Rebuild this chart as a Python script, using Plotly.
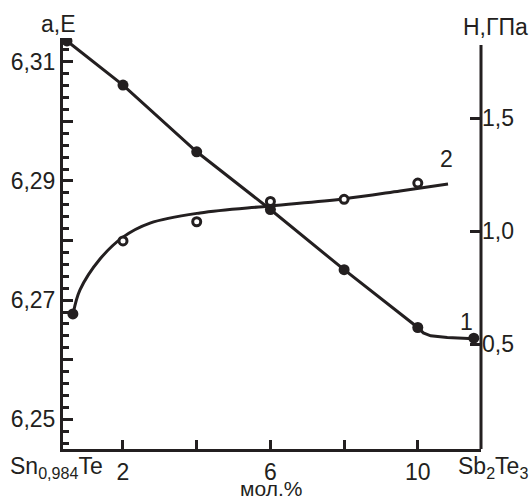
import plotly.graph_objects as go

# ---- data ----
# curve 1: lattice parameter a (left axis)
x1 = [0.48, 2, 4, 6, 8, 10, 11.52]
a_vals = [6.3135, 6.3061, 6.2949, 6.2852, 6.2751, 6.2654, 6.2636]
# curve 1 drawn line (through points, then bending to the end)
fit1_x = [0.48, 2, 4, 6, 8, 10, 10.15, 10.35, 10.8, 11.52]
fit1_a = [6.3135, 6.3061, 6.2949, 6.2852, 6.2751, 6.2654, 6.2645, 6.2640, 6.2637, 6.2635]

# curve 2: microhardness H (right axis)
x2 = [0.64, 2, 4, 6, 8, 10]
h_vals = [0.633, 0.956, 1.041, 1.131, 1.140, 1.212]
fit2_x = [0.651, 0.833, 1.376, 2.0, 2.733, 4.09, 5.99, 7.97, 9.52, 10.82]
fit2_h = [0.637, 0.739, 0.876, 0.973, 1.035, 1.080, 1.111, 1.142, 1.177, 1.208]

x_ticks = [2, 4, 6, 8, 10]
x_ticktext = ["2", "", "6", "", "10"]
y1_ticks = [6.25, 6.26, 6.27, 6.28, 6.29, 6.30, 6.31]
y1_ticktext = ["6,25", "", "6,27", "", "6,29", "", "6,31"]
y2_ticks = [0.5, 1.0, 1.5]
y2_ticktext = ["0,5", "1,0", "1,5"]

INK = "#231f20"
FONT = "Liberation Sans, Arial, sans-serif"
FS = 23

fig = go.Figure()
fig.add_trace(go.Scatter(x=fit1_x, y=fit1_a, mode="lines",
                         line=dict(color=INK, width=3), hoverinfo="skip"))
fig.add_trace(go.Scatter(x=x1, y=a_vals, mode="markers",
                         marker=dict(color=INK, size=11, symbol="circle")))
fig.add_trace(go.Scatter(x=fit2_x, y=fit2_h, mode="lines", yaxis="y2",
                         line=dict(color=INK, width=3, shape="spline", smoothing=1),
                         hoverinfo="skip"))
fig.add_trace(go.Scatter(x=x2[:1], y=h_vals[:1], mode="markers", yaxis="y2",
                         marker=dict(color=INK, size=11, symbol="circle")))
fig.add_trace(go.Scatter(x=x2[1:], y=h_vals[1:], mode="markers", yaxis="y2",
                         marker=dict(color="white", size=8, symbol="circle",
                                     line=dict(color=INK, width=3))))

W, H = 532, 501
L, R, T, B = 63, 51, 38, 52
pw, ph = W - L - R, H - T - B

def px(xp):
    return (xp - L) / pw

def py(yp):
    return (H - B - yp) / ph

tickfont = dict(family=FONT, size=FS, color=INK)

fig.update_layout(
    width=W, height=H,
    margin=dict(l=L, r=R, t=T, b=B),
    paper_bgcolor="white", plot_bgcolor="white",
    showlegend=False,
    font=dict(family=FONT, size=FS, color=INK),
    xaxis=dict(range=[0.372, 11.715], showgrid=False, zeroline=False,
               showline=True, linecolor=INK, linewidth=3,
               tickmode="array", tickvals=x_ticks, ticktext=x_ticktext,
               ticks="inside", ticklen=9, tickwidth=3, tickcolor=INK,
               tickfont=tickfont),
    yaxis=dict(range=[6.2450, 6.3140], showgrid=False, zeroline=False,
               showline=True, linecolor=INK, linewidth=3,
               tickmode="array", tickvals=y1_ticks, ticktext=y1_ticktext,
               ticks="inside", ticklen=10, tickwidth=3, tickcolor=INK,
               tickfont=tickfont,
               minor=dict(tickmode="linear", tick0=6.25, dtick=0.002,
                          ticks="inside", ticklen=6, tickwidth=2.5, tickcolor=INK)),
    yaxis2=dict(range=[0.0354, 1.854], overlaying="y", side="right",
                showgrid=False, zeroline=False, showline=False,
                tickmode="array", tickvals=y2_ticks, ticktext=y2_ticktext,
                ticks="inside", ticklen=11, tickwidth=3, tickcolor=INK,
                tickfont=tickfont),
)

# right axis line (starts a little below the top of the plot)
fig.add_shape(type="line", xref="paper", yref="y2", x0=1, x1=1,
              y0=0.0354, y1=1.823, line=dict(color=INK, width=3))

ann = [
    dict(text="a,E", x=px(58), y=py(24), yanchor="middle", size=FS),
    dict(text="H,ГПа", x=px(496), y=py(27), yanchor="middle", size=FS),
    dict(text="Sn<sub>0,984</sub>Te", x=px(56), y=py(467), yanchor="middle", size=FS),
    dict(text="Sb<sub>2</sub>Te<sub>3</sub>", x=px(493), y=py(467), yanchor="middle", size=FS),
    dict(text="мол.%", x=px(271), y=py(502), yanchor="bottom", size=21),
    dict(text="1", x=px(466), y=py(322), yanchor="middle", size=FS),
    dict(text="2", x=px(446), y=py(159), yanchor="middle", size=FS),
]
for a in ann:
    size = a.pop("size")
    fig.add_annotation(xref="paper", yref="paper", showarrow=False,
                       xanchor="center",
                       font=dict(family=FONT, size=size, color=INK), **a)

fig.write_html("out.html")
